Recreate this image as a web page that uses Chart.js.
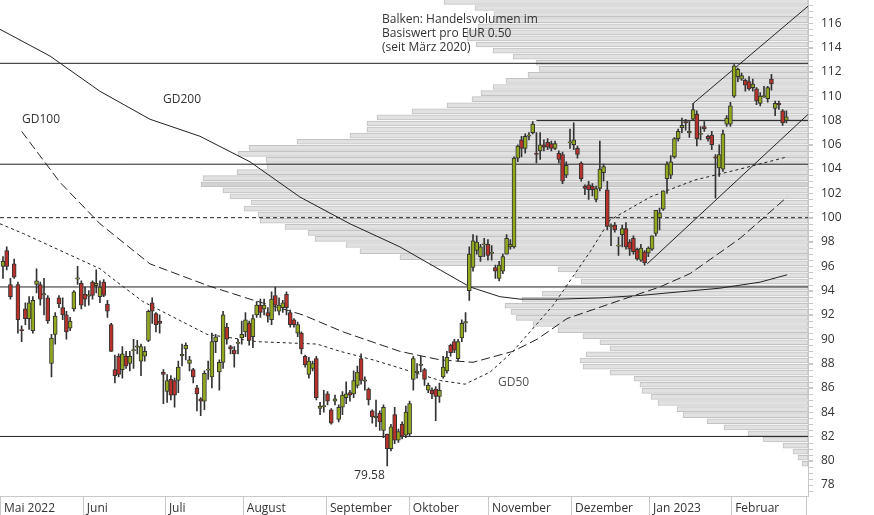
<!DOCTYPE html>
<html>
<head>
<meta charset="utf-8">
<script src="https://cdn.jsdelivr.net/npm/chart.js@4.4.1/dist/chart.umd.min.js"></script>
<style>
  html, body { margin: 0; padding: 0; background: #fff; }
  #wrap { width: 874px; height: 515px; }
</style>
</head>
<body>
<div id="wrap"><canvas id="chart" width="874" height="515"></canvas></div>
<script>
// daily candles [open, high, low, close], May 2022 - Feb 2023
const candles = [
  [96.0,96.8,95.0,96.4],[97.3,97.6,95.7,96.0],[94.5,95.0,93.3,93.5],[96.2,96.6,95.0,95.1],[94.5,94.7,90.5,91.6],
  [90.8,91.1,89.8,90.7],[92.5,93.0,91.2,91.7],[91.7,93.5,90.8,93.0],[90.7,93.5,90.5,93.2],[94.5,95.8,93.8,94.8],
  [94.5,94.7,92.8,93.3],[93.7,95.0,92.0,93.7],[93.4,93.6,91.3,91.5],[88.0,90.4,86.9,90.1],[90.4,92.2,89.6,91.9],
  [93.4,93.6,92.6,92.9],[92.6,93.4,91.6,92.0],[92.0,92.3,90.0,90.6],[90.9,91.8,90.7,91.5],[92.5,94.0,92.3,93.9],
  [95.0,96.0,94.5,95.0],[94.6,94.8,92.5,92.8],[93.7,94.3,92.7,93.3],[93.6,94.0,92.8,93.6],[94.7,94.8,93.3,93.6],
  [94.4,95.7,93.8,94.6],[93.5,94.8,93.0,94.3],[94.7,94.9,93.5,93.6],[92.9,93.2,91.8,92.3],[91.2,91.3,89.0,89.0],
  [87.5,88.7,86.4,87.0],[88.6,88.8,86.9,87.1],[87.5,89.4,86.8,88.8],[88.6,89.0,87.6,87.8],[88.0,89.0,87.4,88.6],
  [89.1,90.0,87.6,89.1],[89.4,89.9,88.8,89.4],[88.2,89.6,87.0,89.4],[88.6,89.4,88.2,89.0],[89.9,92.4,89.8,92.3],
  [93.0,93.4,91.3,92.3],[92.1,92.2,90.6,91.2],[91.5,92.0,90.5,91.3],[87.3,87.5,84.7,87.1],[85.7,87.1,84.8,86.6],
  [86.7,87.0,85.0,85.4],[86.6,86.8,84.4,85.4],[86.6,88.2,85.6,87.7],[88.7,89.6,87.8,88.7],[89.2,89.7,88.3,89.5],
  [88.0,88.6,87.4,88.3],[87.5,87.6,86.4,86.9],[86.0,86.2,84.1,85.5],[85.1,85.2,83.7,84.9],[84.9,87.4,84.2,87.2],
  [87.5,88.2,86.7,87.5],[86.9,90.5,86.0,89.8],[89.8,90.4,88.9,90.2],[87.3,88.3,85.8,88.1],[88.1,92.3,87.6,92.0],
  [91.0,91.3,89.6,90.0],[89.4,89.5,88.8,89.2],[89.1,89.4,87.7,88.8],[89.7,90.0,88.8,89.7],[90.1,91.5,89.6,90.4],
  [90.6,92.2,90.2,91.6],[91.3,91.5,89.5,89.9],[90.2,92.0,89.3,91.7],[92.0,93.1,91.8,92.8],[92.8,93.3,91.8,92.2],
  [92.5,93.3,92.0,92.8],[92.2,92.6,91.4,91.9],[91.6,93.9,91.2,93.3],[93.6,94.3,92.3,92.8],[92.3,93.4,92.0,92.8],
  [92.6,93.2,92.2,93.0],[93.7,93.9,92.0,92.6],[92.2,92.4,91.0,91.2],[91.6,91.7,91.0,91.2],[90.5,91.4,90.2,91.2],
  [90.5,90.6,88.8,89.2],[88.6,88.7,87.7,87.9],[87.1,88.5,86.8,88.2],[87.6,88.2,87.4,88.0],[88.4,88.6,85.0,85.2],
  [84.3,84.8,83.8,84.5],[84.5,85.8,84.0,84.5],[85.5,85.7,84.6,84.9],[84.2,84.3,83.0,83.1],[84.9,85.4,84.6,85.1],
  [83.4,84.6,83.2,84.4],[84.4,85.7,83.8,85.4],[85.2,86.5,84.7,85.5],[85.6,85.8,84.9,85.4],[85.5,87.4,85.2,86.6],
  [86.2,87.8,86.0,87.3],[88.4,88.8,86.3,86.6],[86.6,86.9,85.8,86.6],[85.9,86.0,84.6,85.0],[84.1,84.2,83.1,83.6],
  [83.6,85.0,82.8,83.6],[83.9,84.1,82.5,83.2],[82.5,84.6,81.9,84.4],[82.2,82.2,79.58,81.0],[81.0,83.0,80.8,82.8],
  [83.8,84.4,81.4,81.7],[81.7,82.6,81.5,82.4],[83.0,83.2,81.8,82.0],[82.1,84.5,81.9,84.0],[82.2,84.9,82.0,84.7],
  [86.7,88.6,85.8,88.4],[87.3,88.0,86.8,87.3],[87.9,88.6,87.3,87.9],[87.5,87.6,86.2,86.7],[85.8,86.4,85.6,86.2],
  [85.8,86.0,85.1,85.5],[85.9,86.1,83.3,85.3],[85.3,86.4,84.8,85.8],[86.9,88.6,86.8,87.7],[87.4,89.0,87.2,88.5],
  [89.5,89.6,88.6,88.9],[89.8,90.0,88.9,89.1],[88.4,90.0,88.2,89.8],[90.1,91.6,89.8,91.3],[91.4,92.2,90.6,91.4],
  [94.0,97.6,93.2,97.0],[95.9,98.6,95.6,98.1],[97.3,98.5,97.0,98.0],[96.8,97.8,96.4,97.6],[97.8,98.3,96.8,97.8],
  [97.8,98.2,96.5,96.9],[97.1,97.7,96.5,97.1],[95.9,96.1,95.0,95.6],[95.0,96.4,94.8,96.1],[95.6,97.0,95.4,96.8],
  [97.0,98.6,97.0,98.3],[97.6,98.2,97.4,97.8],[97.6,105.0,97.5,104.9],[104.9,106.0,104.6,105.9],[106.4,106.7,105.0,105.7],
  [105.7,106.9,105.3,106.7],[106.7,107.0,106.4,106.8],[107.0,107.9,106.9,107.7],[105.3,107.0,104.5,105.2],[105.5,107.0,104.8,106.0],
  [106.0,106.4,105.5,105.8],[106.2,106.5,105.6,105.8],[106.1,106.3,105.5,105.7],[105.7,106.3,105.6,106.1],[105.3,105.5,104.5,104.8],
  [105.2,105.4,102.8,103.0],[103.5,104.6,103.3,104.3],[106.2,107.3,105.7,106.2],[106.0,107.8,105.6,106.4],[105.7,105.9,104.9,105.2],
  [104.5,104.6,103.0,103.2],[102.6,102.7,101.9,102.4],[102.7,103.0,101.5,102.3],[102.6,102.8,101.8,102.3],[101.5,102.6,101.3,102.4],
  [102.4,106.3,102.2,104.0],[103.7,104.4,103.0,104.2],[102.3,103.0,99.0,99.3],[99.3,99.5,97.7,99.3],[99.4,99.6,98.8,99.0],
  [97.7,98.4,96.9,97.7],[98.6,99.4,97.6,99.1],[99.1,99.6,97.4,97.6],[98.0,98.2,96.9,97.4],[98.3,98.5,97.0,97.2],
  [97.4,97.5,96.5,96.6],[96.5,97.8,96.4,97.5],[97.2,97.3,96.1,96.3],[97.1,97.6,96.8,97.5],[97.4,98.5,97.3,98.5],
  [98.7,100.6,98.5,100.6],[100.0,100.8,99.0,100.4],[100.7,102.2,100.6,102.2],[103.2,104.6,102.0,104.4],[103.5,105.1,103.2,104.6],
  [105.0,106.6,104.9,106.5],[106.5,107.3,106.3,107.1],[107.4,108.2,107.0,107.6],[107.9,108.1,107.2,107.8],[107.0,108.0,106.6,107.1],
  [108.1,109.4,108.0,108.9],[108.5,108.8,105.9,106.5],[106.9,107.5,106.4,106.9],[107.5,107.9,107.1,107.3],[106.7,106.8,106.3,106.5],
  [106.8,107.1,105.6,106.0],[105.0,105.2,101.6,104.9],[104.1,106.0,103.4,105.2],[104.0,107.2,103.8,106.9],[107.7,108.4,107.5,108.2],
  [107.7,109.5,107.5,109.2],[110.0,112.6,109.9,112.5],[111.6,112.3,111.2,112.2],[111.4,111.9,111.3,111.7],[111.3,111.4,110.4,110.9],
  [111.2,111.6,110.5,110.6],[110.7,111.4,110.4,111.0],[110.6,110.7,109.3,109.6],[109.4,110.3,109.2,110.0],[110.0,110.8,109.9,110.0],
  [109.8,110.8,109.5,110.7],[111.4,111.8,110.5,111.0],[109.0,109.6,108.4,109.4],[109.4,109.6,108.9,109.3],[108.8,108.9,107.6,107.8],
  [108.0,108.8,107.8,108.3]
];

// moving averages [day index, price]
const gd200 = [[-0.8,115.5],[12.6,113.3],[26,110.4],[39.4,108.1],[52.8,106.7],[66.2,104.6],[79.6,101.7],[93,99.5],
  [106.4,97.6],[117.2,95.7],[125.2,94.3],[133.2,93.5],[138.6,93.3],[149.3,93.3],[160,93.4],[170.8,93.6],
  [181.5,93.9],[192.2,94.2],[203,94.7],[210.2,95.3]];
const gd100 = [[5,107.1],[15.3,102.9],[26,99.5],[39.4,96.2],[55,94.4],[66.2,93.3],[80.4,92.0],[91.2,90.6],
  [106.4,89.0],[117.2,88.3],[126,88.1],[136.7,89.0],[143.2,90.0],[151.2,91.7],[165.4,93.2],[176.1,94.3],
  [184.2,95.4],[197.6,98.3],[210.2,101.7]];
const gd50 = [[-0.8,99.5],[5.4,98.7],[26,95.8],[30.6,94.7],[37.5,93.1],[54.7,90.4],[68.1,89.8],[84.2,89.6],
  [90.4,89.0],[99.2,88.3],[109.9,87.3],[117.2,86.6],[123.9,86.3],[130.6,87.3],[136.7,89.0],[147.5,92.8],
  [157.4,97.2],[162.7,99.8],[173.5,101.7],[185.5,103.1],[197.6,104.0],[210.2,105.0]];

// trend channel and support / resistance levels
const channelUpper = [[185,109.4],[215.8,117.4]];
const channelLower = [[172.7,96.2],[215.8,108.5]];
const levels = [112.7, 104.4, 94.3, 82.0];
const level108 = [[143,108.0],[215.8,108.0]];
const level100 = 100;

// volume profile per EUR 0.50 (lower bound of band, relative volume)
const profileLow = [117.5,117,116.5,116,115.5,115,114.5,114,113.5,113,112.5,112,111.5,111,110.5,110,109.5,109,
  108.5,108,107.5,107,106.5,106,105.5,105,104.5,104,103.5,103,102.5,102,101.5,101,100.5,100,99.5,99,98.5,98,
  97.5,97,96.5,96,95.5,95,94.5,94,93.5,93,92.5,92,91.5,91,90.5,90,89.5,89,88.5,88,87.5,87,86.5,86,85.5,85,
  84.5,84,83.5,83,82.5,82,81.5,81,80.5,80,79.5];
const profileVol = [364,333,314,313,330,341,341,332,315,295,272,269,280,302,315,327,336,361,
  396,431,441,441,458,511,559,570,542,541,571,605,607,585,578,557,564,550,548,523,500,493,
  462,448,408,378,250,233,227,243,266,286,303,297,292,275,250,225,208,198,222,228,225,198,174,168,166,157,
  150,131,125,101,84,60,45,25,15,10,6];
const profileScale = 808; // full plot width in volume units

const yTicks = [78,80,82,84,86,88,90,92,94,96,98,100,102,104,106,108,110,112,114,116];
const monthTicks = [-0.8,21.4,43.4,64.3,86.6,108.8,130,152.3,173.2,195.2];
const monthLabels = ['Mai 2022','Juni','Juli','August','September','Oktober','November','Dezember','Jan 2023','Februar'];

const X_MIN = -0.8, X_MAX = 215.8, Y_MIN = 77.1, Y_MAX = 116.66;
const GREEN = '#93a81f', RED = '#b6322b', INK = '#222';
const FONT = '"Open Sans", "Noto Sans", sans-serif';

const lineDs = (pts, dash, order, clip) => ({
  type: 'line', data: pts.map(p => ({x: p[0], y: p[1]})), borderColor: INK, borderWidth: 1,
  borderDash: dash || [], pointRadius: 0, fill: false, tension: 0, order: order,
  clip: clip ? {left: 0, right: 0, top: 20, bottom: 0} : undefined
});

const datasets = [
  {
    type: 'bar', indexAxis: 'y', order: 20,
    clip: {left: 0, right: 0, top: 20, bottom: 0},
    data: profileLow.map((p, i) => ({
      y: p + 0.25,
      x: [X_MAX - profileVol[i] / profileScale * (X_MAX - X_MIN), X_MAX]
    })),
    backgroundColor: profileLow.map(p => p === 102.5 ? '#d2d2d2' : '#e1e1e1'),
    borderColor: '#c2c2c2', borderWidth: 1, borderSkipped: false, barThickness: 5
  },
  ...levels.map(v => lineDs([[X_MIN, v], [X_MAX, v]], [], 10)),
  lineDs(level108, [], 10),
  lineDs([[X_MIN, level100], [X_MAX, level100]], [4, 3], 10),
  lineDs(gd200, [], 8),
  lineDs(gd100, [9, 4], 8),
  lineDs(gd50, [3, 3], 8),
  lineDs(channelUpper, [], 8, true),
  lineDs(channelLower, [], 8),
  {
    type: 'bar', order: 2, grouped: false,
    data: candles.map((c, i) => ({x: i, y: [c[2], c[1]]})),
    backgroundColor: '#333', borderWidth: 0, barThickness: 1
  },
  {
    type: 'bar', order: 1, grouped: false,
    data: candles.map((c, i) => ({x: i, y: c[0] === c[3] ? [c[0] - 0.05, c[0] + 0.05] : [c[0], c[3]]})),
    backgroundColor: candles.map(c => c[3] >= c[0] ? GREEN : RED),
    borderColor: '#333', borderWidth: 1, borderSkipped: false, barThickness: 4
  }
];

const notes = {
  id: 'notes',
  afterDraw(chart) {
    const ctx = chart.ctx, xs = chart.scales.x, ys = chart.scales.y, area = chart.chartArea;
    ctx.save();
    ctx.strokeStyle = '#c8c8c8';
    ctx.lineWidth = 1;
    // month separators below the axis
    monthTicks.forEach(v => {
      const px = Math.round(xs.getPixelForValue(v)) + 0.5;
      ctx.beginPath(); ctx.moveTo(px, area.bottom); ctx.lineTo(px, 515); ctx.stroke();
    });
    // minor ticks every 0.5 on the price axis
    for (let v = 77.5; v <= 117.5; v += 0.5) {
      const py = Math.round(ys.getPixelForValue(v)) + 0.5;
      ctx.beginPath(); ctx.moveTo(area.right, py); ctx.lineTo(area.right + 5, py); ctx.stroke();
    }
    ctx.beginPath(); ctx.moveTo(area.right + 0.5, 0); ctx.lineTo(area.right + 0.5, area.top); ctx.stroke();
    ctx.beginPath(); ctx.moveTo(area.right - 1.5, area.bottom); ctx.lineTo(area.right - 1.5, 515); ctx.stroke();
    ctx.font = '12px ' + FONT;
    ctx.fillStyle = '#333';
    ctx.textBaseline = 'middle';
    ['Balken: Handelsvolumen im', 'Basiswert pro EUR 0.50', '(seit März 2020)']
      .forEach((t, i) => ctx.fillText(t, 382, 20 + i * 14));
    ctx.fillText('GD200', 163, 100);
    ctx.fillText('GD100', 22, 120);
    ctx.fillStyle = '#555';
    ctx.fillText('GD50', 498, 383);
    ctx.fillStyle = '#333';
    ctx.fillText('79.58', xs.getPixelForValue(103) - 33, ys.getPixelForValue(79.58) + 10);
    ctx.restore();
  }
};

new Chart(document.getElementById('chart'), {
  type: 'bar',
  data: { datasets: datasets },
  plugins: [notes],
  options: {
    responsive: false,
    animation: false,
    layout: { padding: 0 },
    plugins: { legend: { display: false }, tooltip: { enabled: false } },
    scales: {
      x: {
        type: 'linear', min: X_MIN, max: X_MAX, offset: false,
        afterBuildTicks: s => { s.ticks = monthTicks.map(v => ({value: v})); },
        afterFit: s => { s.height = 19; },
        grid: { display: false, offset: false },
        border: { display: true, color: '#c8c8c8' },
        ticks: {
          align: 'start', labelOffset: 4, padding: -3, color: '#333', font: { family: FONT, size: 12 },
          maxRotation: 0, autoSkip: false,
          callback: (v, i) => monthLabels[i]
        }
      },
      y: {
        type: 'linear', position: 'right', min: Y_MIN, max: Y_MAX, offset: false,
        afterBuildTicks: s => { s.ticks = yTicks.map(v => ({value: v})); },
        afterFit: s => { s.width = 66; },
        grid: { display: true, offset: false, drawOnChartArea: false, color: '#c8c8c8', tickLength: 5 },
        border: { display: true, color: '#c8c8c8' },
        ticks: { padding: 8, color: '#333', font: { family: FONT, size: 12 }, autoSkip: false }
      }
    }
  }
});
</script>
</body>
</html>
